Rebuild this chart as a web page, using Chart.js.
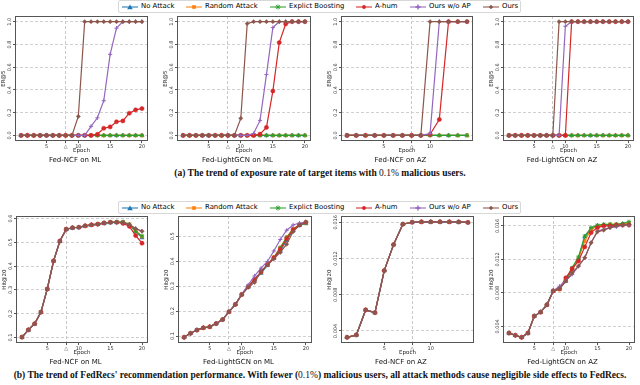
<!DOCTYPE html>
<html>
<head>
<meta charset="utf-8">
<script src="https://cdn.jsdelivr.net/npm/chart.js@4.4.1/dist/chart.umd.min.js"></script>
<style>
  body { margin: 0; width: 640px; height: 385px; background: #fff; position: relative; overflow: hidden; font-family: "DejaVu Sans", sans-serif; }
  canvas { position: absolute; }
  .legend { position: absolute; left: 118px; width: 403px; height: 13px; border: 1px solid #d8d8d8; border-radius: 2px; background: #fff; box-sizing: border-box; }
  .item { position: absolute; top: 0; height: 11px; line-height: 11px; font-size: 6.9px; color: #000; white-space: nowrap; }
  .item svg { position: absolute; left: 0; top: 1.5px; }
  .item span { position: absolute; left: 19px; top: 0; }
  .caption { position: absolute; left: 0; width: 640px; text-align: center; font-family: "Liberation Serif", serif; font-weight: bold; font-size: 9.5px; line-height: 11px; color: #111; white-space: nowrap; }
  .caption i { font-style: normal; font-weight: normal; color: #111; }
</style>
</head>
<body>
<div class="legend" id="legendTop" style="top:0px"></div>
<div class="legend" id="legendBottom" style="top:201px"></div>
<div class="caption" style="top:168px">(a) The trend of exposure rate of target items with <i>0.1%</i> malicious users.</div>
<div class="caption" style="top:370px">(b) The trend of FedRecs' recommendation performance. With fewer (<i>0.1%</i>) malicious users, all attack methods cause negligible side effects to FedRecs.</div>
<script>
// ---- data ----
const methods = ["No Attack", "Random Attack", "Explict Boosting", "A-hum", "Ours w/o AP", "Ours"];
const colors = ["#1f77b4", "#ff7f0e", "#2ca02c", "#d62728", "#9467bd", "#8c564b"];
const markers = ["triangle", "rect", "star", "circle", "cross", "rectRot"];

const epochs20 = [1, 2, 3, 4, 5, 6, 7, 8, 9, 10, 11, 12, 13, 14, 15, 16, 17, 18, 19, 20];
const epochs14 = [1, 2, 3, 4, 5, 6, 7, 8, 9, 10, 11, 12, 13, 14];
const attackEpoch = 8;
const xTicks20 = [5, 8, 10, 15, 20];
const xTicks14 = [5, 8, 10];

const erTicks = [0, 0.2, 0.4, 0.6, 0.8, 1.0];
const hitNcfMlTicks = [0.1, 0.2, 0.3, 0.4, 0.5, 0.6];
const hitLgnMlTicks = [0.1, 0.2, 0.3, 0.4, 0.5];
const hitAzTicks = [0.004, 0.008, 0.012, 0.016];

// ER@5, one row per method (same order as methods)
const erNcfMl = [
  [0, 0, 0, 0, 0, 0, 0, 0, 0, 0, 0, 0, 0, 0, 0, 0, 0, 0, 0, 0],
  [0, 0, 0, 0, 0, 0, 0, 0, 0, 0, 0, 0, 0, 0, 0, 0, 0, 0, 0, 0],
  [0, 0, 0, 0, 0, 0, 0, 0, 0, 0, 0, 0, 0, 0, 0, 0, 0, 0, 0, 0],
  [0, 0, 0, 0, 0, 0, 0, 0, 0, 0, 0, 0, 0.01, 0.063, 0.075, 0.12, 0.127, 0.195, 0.224, 0.236],
  [0, 0, 0, 0, 0, 0, 0, 0, 0, 0, 0, 0.08, 0.155, 0.305, 0.713, 0.943, 1, 1, 1, 1],
  [0, 0, 0, 0, 0, 0, 0, 0, 0, 0.167, 1, 1, 1, 1, 1, 1, 1, 1, 1, 1]
];
const erLgnMl = [
  [0, 0, 0, 0, 0, 0, 0, 0, 0, 0, 0, 0, 0, 0, 0, 0, 0, 0, 0, 0],
  [0, 0, 0, 0, 0, 0, 0, 0, 0, 0, 0, 0, 0, 0, 0, 0, 0, 0, 0, 0],
  [0, 0, 0, 0, 0, 0, 0, 0, 0, 0, 0, 0, 0, 0, 0, 0, 0, 0, 0, 0],
  [0, 0, 0, 0, 0, 0, 0, 0, 0, 0, 0, 0, 0.011, 0.07, 0.39, 0.816, 0.98, 1, 1, 1],
  [0, 0, 0, 0, 0, 0, 0, 0, 0, 0, 0, 0.017, 0.132, 0.535, 0.948, 1, 1, 1, 1, 1],
  [0, 0, 0, 0, 0, 0, 0, 0, 0, 0.15, 0.983, 1, 1, 1, 1, 1, 1, 1, 1, 1]
];
const erNcfAz = [
  [0, 0, 0, 0, 0, 0, 0, 0, 0, 0, 0, 0, 0, 0],
  [0, 0, 0, 0, 0, 0, 0, 0, 0, 0, 0, 0, 0, 0],
  [0, 0, 0, 0, 0, 0, 0, 0, 0, 0, 0, 0, 0, 0],
  [0, 0, 0, 0, 0, 0, 0, 0, 0, 0.01, 0.14, 1, 1, 1],
  [0, 0, 0, 0, 0, 0, 0, 0, 0, 0.017, 1, 1, 1, 1],
  [0, 0, 0, 0, 0, 0, 0, 0, 0, 1, 1, 1, 1, 1]
];
const erLgnAz = [
  [0, 0, 0, 0, 0, 0, 0, 0, 0, 0, 0, 0, 0, 0, 0, 0, 0, 0, 0, 0],
  [0, 0, 0, 0, 0, 0, 0, 0, 0, 0, 0, 0, 0, 0, 0, 0, 0, 0, 0, 0],
  [0, 0, 0, 0, 0, 0, 0, 0, 0, 0, 0, 0, 0, 0, 0, 0, 0, 0, 0, 0],
  [0, 0, 0, 0, 0, 0, 0, 0, 0, 0, 1, 1, 1, 1, 1, 1, 1, 1, 1, 1],
  [0, 0, 0, 0, 0, 0, 0, 0, 0, 0.96, 1, 1, 1, 1, 1, 1, 1, 1, 1, 1],
  [0, 0, 0, 0, 0, 0, 0, 0, 1, 1, 1, 1, 1, 1, 1, 1, 1, 1, 1, 1]
];

// Hit@20
const hitNcfMl = [
  [0.101, 0.131, 0.157, 0.206, 0.303, 0.421, 0.504, 0.554, 0.560, 0.562, 0.568, 0.572, 0.575, 0.579, 0.582, 0.583, 0.583, 0.574, 0.547, 0.519],
  [0.102, 0.132, 0.158, 0.207, 0.304, 0.422, 0.505, 0.555, 0.561, 0.563, 0.569, 0.573, 0.576, 0.581, 0.584, 0.585, 0.585, 0.575, 0.549, 0.524],
  [0.102, 0.132, 0.158, 0.207, 0.304, 0.422, 0.505, 0.555, 0.561, 0.563, 0.569, 0.573, 0.577, 0.582, 0.585, 0.586, 0.586, 0.576, 0.544, 0.526],
  [0.102, 0.132, 0.158, 0.207, 0.304, 0.422, 0.505, 0.555, 0.561, 0.563, 0.569, 0.573, 0.576, 0.581, 0.584, 0.584, 0.579, 0.567, 0.528, 0.496],
  [0.102, 0.132, 0.158, 0.207, 0.304, 0.422, 0.505, 0.555, 0.561, 0.563, 0.569, 0.573, 0.576, 0.581, 0.583, 0.584, 0.583, 0.574, 0.558, 0.547],
  [0.102, 0.132, 0.158, 0.207, 0.304, 0.422, 0.505, 0.555, 0.561, 0.563, 0.569, 0.573, 0.576, 0.580, 0.583, 0.583, 0.583, 0.574, 0.557, 0.546]
];
const hitLgnMl = [
  [0.095, 0.111, 0.124, 0.133, 0.137, 0.150, 0.166, 0.197, 0.227, 0.266, 0.297, 0.325, 0.352, 0.383, 0.412, 0.441, 0.484, 0.522, 0.543, 0.551],
  [0.095, 0.111, 0.124, 0.133, 0.137, 0.150, 0.166, 0.197, 0.227, 0.267, 0.298, 0.328, 0.356, 0.386, 0.416, 0.455, 0.497, 0.530, 0.546, 0.554],
  [0.095, 0.111, 0.124, 0.133, 0.137, 0.150, 0.166, 0.197, 0.227, 0.267, 0.299, 0.327, 0.355, 0.386, 0.415, 0.454, 0.495, 0.528, 0.545, 0.553],
  [0.095, 0.111, 0.124, 0.133, 0.137, 0.150, 0.166, 0.197, 0.227, 0.267, 0.298, 0.326, 0.357, 0.387, 0.413, 0.448, 0.490, 0.526, 0.546, 0.556],
  [0.095, 0.111, 0.124, 0.133, 0.137, 0.150, 0.166, 0.197, 0.227, 0.268, 0.305, 0.341, 0.372, 0.399, 0.441, 0.487, 0.524, 0.545, 0.553, 0.556],
  [0.095, 0.111, 0.124, 0.133, 0.137, 0.150, 0.166, 0.197, 0.227, 0.266, 0.295, 0.315, 0.360, 0.385, 0.410, 0.435, 0.468, 0.518, 0.545, 0.558]
];
const hitNcfAz = [
  [0.0033, 0.00356, 0.00632, 0.00602, 0.01066, 0.01353, 0.01578, 0.01598, 0.01602, 0.01602, 0.01602, 0.01602, 0.01601, 0.01597],
  [0.0033, 0.00357, 0.00633, 0.00603, 0.01067, 0.01354, 0.01579, 0.01600, 0.01604, 0.01604, 0.01604, 0.01604, 0.01603, 0.01598],
  [0.0033, 0.00356, 0.00632, 0.00602, 0.01066, 0.01353, 0.01578, 0.01600, 0.01604, 0.01604, 0.01605, 0.01604, 0.01603, 0.01598],
  [0.0033, 0.00356, 0.00632, 0.00602, 0.01066, 0.01353, 0.01578, 0.01600, 0.01604, 0.01604, 0.01604, 0.01604, 0.01603, 0.01598],
  [0.0033, 0.00356, 0.00632, 0.00602, 0.01066, 0.01353, 0.01578, 0.01600, 0.01604, 0.01604, 0.01604, 0.01604, 0.01603, 0.01598],
  [0.0033, 0.00356, 0.00632, 0.00602, 0.01066, 0.01353, 0.01578, 0.01600, 0.01604, 0.01604, 0.01604, 0.01604, 0.01603, 0.01598]
];
const hitLgnAz = [
  [0.0032, 0.00293, 0.00269, 0.0032, 0.00523, 0.0057, 0.00657, 0.00824, 0.00848, 0.0094, 0.0108, 0.0121, 0.0147, 0.0156, 0.0160, 0.0161, 0.0161, 0.0161, 0.0162, 0.0163],
  [0.0032, 0.00293, 0.00269, 0.0032, 0.00523, 0.0057, 0.00657, 0.00824, 0.0084, 0.0096, 0.0109, 0.0121, 0.0142, 0.0156, 0.0160, 0.0161, 0.0162, 0.0162, 0.0162, 0.0163],
  [0.0032, 0.00293, 0.00269, 0.0032, 0.00523, 0.0057, 0.00657, 0.00824, 0.0085, 0.0096, 0.0110, 0.0123, 0.0148, 0.0158, 0.0161, 0.0162, 0.0162, 0.0162, 0.0163, 0.0165],
  [0.0032, 0.00293, 0.00269, 0.0032, 0.00523, 0.0057, 0.00657, 0.00824, 0.0085, 0.0098, 0.0109, 0.0118, 0.0135, 0.0152, 0.0158, 0.0160, 0.0160, 0.0161, 0.0161, 0.0161],
  [0.0032, 0.00293, 0.00269, 0.0032, 0.00523, 0.0057, 0.00657, 0.00824, 0.0088, 0.0095, 0.0102, 0.0112, 0.0122, 0.0140, 0.0154, 0.0156, 0.0158, 0.0159, 0.0161, 0.0161],
  [0.0032, 0.00293, 0.00269, 0.0032, 0.00523, 0.0057, 0.00657, 0.00824, 0.0085, 0.0094, 0.0104, 0.0112, 0.0122, 0.0140, 0.0153, 0.0155, 0.0158, 0.0160, 0.0161, 0.0162]
];

// ---- legends (html) ----
const legendX = [3, 67, 151, 237, 291, 364];
function markerSvg(i) {
  const c = colors[i];
  let m = "";
  if (i === 0) m = `<polygon points="8,1.4 10.8,6.3 5.2,6.3" fill="${c}"/>`;
  if (i === 1) m = `<rect x="6.2" y="2.2" width="3.6" height="3.6" fill="${c}"/>`;
  if (i === 2) m = `<path d="M5.5,4H10.5M8,1.5V6.5M6.2,2.2L9.8,5.8M9.8,2.2L6.2,5.8" stroke="${c}" stroke-width="0.9"/>`;
  if (i === 3) m = `<circle cx="8" cy="4" r="1.9" fill="${c}"/>`;
  if (i === 4) m = `<path d="M5.4,4H10.6M8,1.4V6.6" stroke="${c}" stroke-width="1.4"/>`;
  if (i === 5) m = `<polygon points="8,1.8 10.2,4 8,6.2 5.8,4" fill="${c}"/>`;
  return `<svg width="16" height="8"><line x1="0" y1="4" x2="16" y2="4" stroke="${c}" stroke-width="1.4" stroke-opacity="0.75"/>${m}</svg>`;
}
["legendTop", "legendBottom"].forEach(id => {
  const box = document.getElementById(id);
  methods.forEach((name, i) => {
    const d = document.createElement("div");
    d.className = "item";
    d.style.left = legendX[i] + "px";
    d.innerHTML = markerSvg(i) + "<span>" + name + "</span>";
    box.appendChild(d);
  });
});

// ---- charts ----
const framePlugin = {
  id: "frame",
  afterDatasetsDraw(chart) {
    const { ctx, chartArea: a } = chart;
    ctx.save();
    ctx.strokeStyle = "#555";
    ctx.lineWidth = 1;
    ctx.strokeRect(Math.round(a.left) + 0.5, Math.round(a.top) + 0.5, Math.round(a.right - a.left) - 1, Math.round(a.bottom - a.top) - 1);
    ctx.restore();
  }
};

const PAD_L = 15, PAD_T = 3, PAD_R = 3, X_H = 13, TITLE_H = 9.9, PAD_B = 1;

function makePanel(p) {
  const [L, T, R, B] = p.box;
  const canvas = document.createElement("canvas");
  canvas.width = R - L + PAD_L + PAD_R;
  canvas.height = Math.round(B - T + PAD_T + X_H + TITLE_H + PAD_B);
  canvas.style.left = (L - PAD_L) + "px";
  canvas.style.top = (T - PAD_T) + "px";
  document.body.appendChild(canvas);

  const n = p.epochs.length;
  const xPad = 0.05 * (p.epochs[n - 1] - p.epochs[0]);
  const all = p.series.flat();
  const lo = Math.min(...all), hi = Math.max(...all);
  const yPad = 0.05 * (hi - lo);

  const datasets = p.series.map((vals, i) => ({
    label: methods[i],
    data: p.epochs.map((e, j) => ({ x: e, y: vals[j] })),
    borderColor: colors[i],
    backgroundColor: colors[i],
    borderWidth: 1.2,
    pointStyle: markers[i],
    pointRadius: i === 0 ? 2.5 : 2.1,
    pointBorderWidth: (i === 2 || i === 4) ? 1 : 0.5,
    order: 6 - i,
    tension: 0
  }));

  new Chart(canvas.getContext("2d"), {
    type: "line",
    data: { datasets },
    plugins: [framePlugin],
    options: {
      responsive: false,
      animation: false,
      layout: { padding: { left: 0, top: PAD_T, right: PAD_R, bottom: PAD_B } },
      plugins: {
        legend: { display: false },
        tooltip: { enabled: false },
        title: {
          display: true, text: p.title, position: "bottom", color: "#111",
          font: { size: 7, family: "'DejaVu Sans'", weight: "normal" },
          padding: { top: 1.5, bottom: 0 }
        }
      },
      scales: {
        x: {
          type: "linear",
          min: p.epochs[0] - xPad,
          max: p.epochs[n - 1] + xPad,
          afterBuildTicks: s => { s.ticks = p.xTicks.map(v => ({ value: v })); },
          afterFit: s => { s.height = X_H; },
          ticks: {
            autoSkip: false, maxRotation: 0, padding: 0.5, color: "#333",
            font: { size: 5, family: "'DejaVu Sans'" },
            callback: v => v === attackEpoch ? "\u25B3" : String(v)
          },
          grid: {
            color: c => (c.tick && c.tick.value === attackEpoch) ? "#c8c8c8" : "rgba(0,0,0,0)",
            tickColor: "#555", tickLength: 2, lineWidth: 1
          },
          border: { display: false, dash: [3, 2] },
          title: { display: true, text: "Epoch", color: "#222", padding: 0, font: { size: 5.5, family: "'DejaVu Sans'" } }
        },
        y: {
          min: lo - yPad,
          max: hi + yPad,
          afterBuildTicks: s => { s.ticks = p.yTicks.map(v => ({ value: v })); },
          afterFit: s => { s.width = PAD_L; },
          ticks: {
            minRotation: 90, maxRotation: 90, crossAlign: "center", padding: p.yTickPad, color: "#333",
            font: { size: 5, family: "'DejaVu Sans'" },
            callback: v => v.toFixed(p.digits)
          },
          grid: { color: "#d0d0d0", tickColor: "#555", tickLength: 2, lineWidth: 1 },
          border: { display: false, dash: [3, 2] },
          title: { display: true, text: p.yLabel, color: "#222", padding: 0, font: { size: 5.5, family: "'DejaVu Sans'" } }
        }
      }
    }
  });
}

const panels = [
  { box: [15, 14, 150, 141], epochs: epochs20, series: erNcfMl, yTicks: erTicks, digits: 1, yLabel: "ER@5", title: "Fed-NCF on ML", xTicks: xTicks20, yTickPad: -0.5 },
  { box: [177, 14, 313, 141], epochs: epochs20, series: erLgnMl, yTicks: erTicks, digits: 1, yLabel: "ER@5", title: "Fed-LightGCN on ML", xTicks: xTicks20, yTickPad: -0.5 },
  { box: [341, 14, 475, 141], epochs: epochs14, series: erNcfAz, yTicks: erTicks, digits: 1, yLabel: "ER@5", title: "Fed-NCF on AZ", xTicks: xTicks14, yTickPad: -0.5 },
  { box: [503, 14, 636, 141], epochs: epochs20, series: erLgnAz, yTicks: erTicks, digits: 1, yLabel: "ER@5", title: "Fed-LightGCN on AZ", xTicks: xTicks20, yTickPad: -0.5 },
  { box: [16, 214, 150, 343], epochs: epochs20, series: hitNcfMl, yTicks: hitNcfMlTicks, digits: 1, yLabel: "Hit@20", title: "Fed-NCF on ML", xTicks: xTicks20, yTickPad: -0.5 },
  { box: [178, 214, 314, 343], epochs: epochs20, series: hitLgnMl, yTicks: hitLgnMlTicks, digits: 1, yLabel: "Hit@20", title: "Fed-LightGCN on ML", xTicks: xTicks20, yTickPad: -0.5 },
  { box: [341, 214, 476, 343], epochs: epochs14, series: hitNcfAz, yTicks: hitAzTicks, digits: 3, yLabel: "Hit@20", title: "Fed-NCF on AZ", xTicks: xTicks14, yTickPad: -3.6 },
  { box: [503, 214, 637, 343], epochs: epochs20, series: hitLgnAz, yTicks: hitAzTicks, digits: 3, yLabel: "Hit@20", title: "Fed-LightGCN on AZ", xTicks: xTicks20, yTickPad: -3.6 }
];
panels.forEach(makePanel);
</script>
</body>
</html>
